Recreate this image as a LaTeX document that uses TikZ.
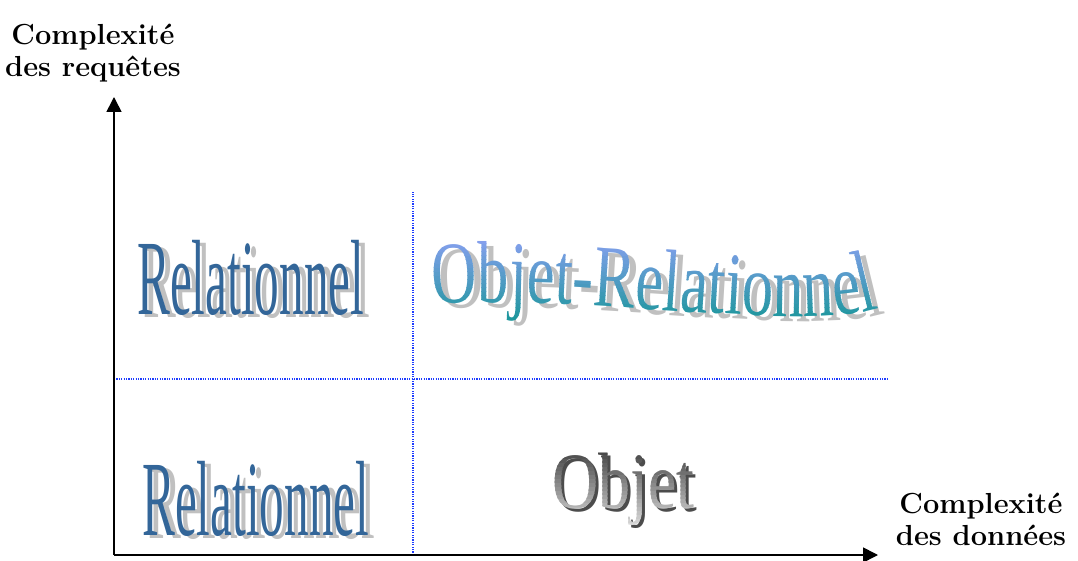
\documentclass[tikz,border=0pt]{standalone}
\usepackage{fontspec}
\usetikzlibrary{arrows.meta,decorations.text}

\newfontfamily\artrel[FakeStretch=0.46]{Liberation Serif}
\newfontfamily\artobjrel[FakeStretch=0.71]{Liberation Serif}
\newfontfamily\artobj[FakeStretch=0.8]{Liberation Serif}

\definecolor{relblue}{RGB}{51,102,153}
\definecolor{ombre}{RGB}{192,192,192}
\definecolor{lavande}{RGB}{143,160,245}
\definecolor{sarcelle}{RGB}{20,150,150}
\definecolor{pointille}{RGB}{30,60,255}

\begin{document}
\begin{tikzpicture}[x=1pt,y=1pt,
  axe/.style={line width=1.6pt,-{Triangle[length=15pt,width=15pt]}},
  grille/.style={pointille,line width=1.2pt,dash pattern=on 1.2pt off 1.2pt},
  axelabel/.style={font=\fontsize{29}{32}\selectfont\bfseries,align=center,
    inner sep=0,anchor=base},
  relart/.style={font=\artrel\fontsize{107}{107}\selectfont,inner sep=0,
    anchor=base west,text=relblue},
  objrel/.style={decoration={text along path,text color=#1,text align=center,
    text={|\artobjrel\fontsize{88}{88}\selectfont|Objet-Relationnel}},decorate}]
  \useasboundingbox (0,0) rectangle (1078,560);

  \def\cx{656}
  \def\cy{278}
  \def\nb{24}

  % axes et pointilles
  \coordinate (O) at (114,5);
  \coordinate (ytip) at (114,463);
  \coordinate (xtip) at (878,5);
  \coordinate (vtop) at (413,368);
  \coordinate (vbot) at (413,5);
  \coordinate (hleft) at (114,181);
  \coordinate (hright) at (888,181);

  \draw[grille] (vbot) -- (vtop);
  \draw[grille] (hleft) -- (hright);
  \draw[axe] (O) -- (ytip);
  \draw[axe] (O) -- (xtip);

  \node[axelabel] (labelY) at (93,483) {Complexité\\des requêtes};
  \node[axelabel] (labelX) at (981,15) {Complexité\\des données};

  % Relationnel
  \node[relart,text=ombre] (relHautOmbre) at (143,242) {Relationnel};
  \node[relart] (relHaut) at (137,245) {Relationnel};
  \node[relart,text=ombre] (relBasOmbre) at (148,22) {Relationnel};
  \node[relart] (relBas) at (142,25) {Relationnel};

  % Objet-Relationnel (degrade par bandes)
  \path[objrel=ombre] (\cx+7-226,\cy-5-22) .. controls (\cx+7-60,\cy-5-12)
    and (\cx+7+150,\cy-5-52) .. (\cx+7+226,\cy-5-25);
  \foreach \i in {1,...,\nb} {
    \pgfmathtruncatemacro{\p}{100*(\i-1)/(\nb-1)}
    \pgfmathsetmacro{\ya}{232+(\i-1)*4}
    \begin{scope}
      \clip (\cx-240,\ya) rectangle (\cx+240,\ya+4.2);
      \path[objrel=lavande!\p!sarcelle] (\cx-226,\cy-22) .. controls (\cx-60,\cy-12)
        and (\cx+150,\cy-52) .. (\cx+226,\cy-25);
    \end{scope}
  }

  % Objet
  \node[inner sep=0,anchor=base west,text=black!70,
    font=\artobj\fontsize{80}{80}\selectfont] (objOmbre) at (555,49) {Objet};
  \foreach \i in {1,...,20} {
    \pgfmathtruncatemacro{\p}{15+60*(\i-1)/19}
    \pgfmathsetmacro{\ya}{34+(\i-1)*4}
    \begin{scope}
      \clip (530,\ya) rectangle (720,\ya+4.2);
      \node[inner sep=0,anchor=base west,text=black!\p!white,
        font=\artobj\fontsize{80}{80}\selectfont] at (552,52) {Objet};
    \end{scope}
  }
\end{tikzpicture}
\end{document}
